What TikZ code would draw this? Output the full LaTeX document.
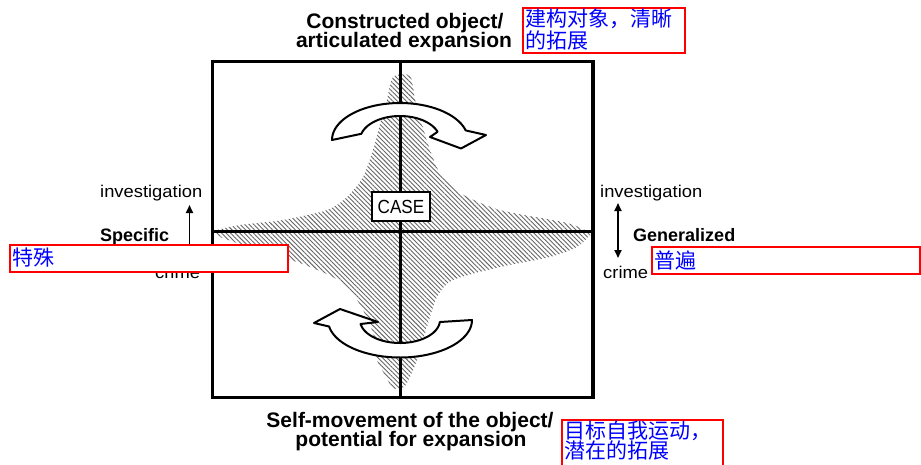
\documentclass[tikz,border=0pt]{standalone}
\usepackage{fontspec}
\setmainfont{Liberation Sans}
\newfontfamily\labfont[FakeStretch=1.08]{Liberation Sans}
\newfontfamily\casefont[FakeStretch=0.9]{Liberation Sans}
\newfontfamily\cjk{Noto Sans CJK SC}
\usetikzlibrary{arrows.meta,patterns.meta}
\tikzset{
  lbl/.style={font=\labfont\fontsize{17}{17}\selectfont, inner sep=0pt, anchor=base west},
  blbl/.style={font=\fontsize{18}{18}\selectfont\bfseries, inner sep=0pt, anchor=base west},
  ttl/.style={font=\fontsize{21}{21}\selectfont\bfseries, inner sep=0pt, anchor=base},
  cn/.style={font=\cjk\fontsize{21}{21}\selectfont, text=blue, inner sep=0pt, anchor=base west},
  redbox/.style={draw=red, fill=white, line width=2.2pt},
  arrowshape/.style={draw=black, fill=white, line width=2pt, line join=round},
  hatch/.style={pattern={Lines[angle=-45,distance=3.2pt,line width=0.9pt]}, pattern color=black!60},
  vtip/.style={line width=1.7pt, -{Triangle[length=8pt,width=7pt]}},
  dtip/.style={line width=1.7pt, {Triangle[length=8pt,width=7pt]}-{Triangle[length=8pt,width=7pt]}}
}
\begin{document}
\begin{tikzpicture}[x=1pt,y=-1pt]
\useasboundingbox (0,0) rectangle (921,464);
\fill[white] (0,0) rectangle (921,464);
% hatched star
\path[hatch] plot[smooth cycle, tension=0.45] coordinates {
 (393,77) (387,100) (382,117) (373,150) (363,177) (347,197) (327,210) (283,220) (240,225) (217,230)
 (214,233) (220,237) (267,253) (300,263) (333,277) (350,290) (363,310) (373,333) (377,360) (385,375) (393,388)
 (405,386) (417,360) (427,327) (437,297) (453,280) (500,267) (550,257) (577,247) (588,237)
 (590,233) (567,223) (500,210) (460,193) (440,173) (430,150) (420,117) (415,100) (410,76)};
% frame and axes
\coordinate (fnw) at (212.5,61.5);
\coordinate (fse) at (593,397.5);
\coordinate (vt) at (400.5,61.5);
\coordinate (vb) at (400.5,397.5);
\coordinate (hl) at (212.5,231.5);
\coordinate (hr) at (593,231.5);
\draw[line width=2.4pt] (vt) -- (vb);
\draw[line width=2.4pt] (hl) -- (hr);
\draw[line width=3.8pt] (fnw) rectangle (fse);
% curved arrows
\draw[arrowshape] plot[domain=180:15,samples=60] ({400+68*cos(\x)},{140-37*sin(\x)})
  -- (486,135) -- (461,148.5) -- (430,137)
  -- plot[domain=20:165,samples=60] ({400+40*cos(\x)},{140-24*sin(\x)}) -- cycle;
\draw[arrowshape] plot[domain=0:170,samples=60] ({400+72*cos(\x)},{320+37.5*sin(\x)})
  -- (314,323) -- (340,309) -- (378,322)
  -- plot[domain=170:5,samples=60] ({400+40*cos(\x)},{320+23*sin(\x)}) -- cycle;
% CASE
\node[draw, fill=white, line width=2pt, minimum width=58pt, minimum height=29pt, inner sep=0pt,
  font=\casefont\fontsize{19}{19}\selectfont] (case) at (401,206.5) {CASE};
% titles
\node[ttl] (t1) at (405,28) {Constructed object/};
\node[ttl] (t2) at (404,47) {articulated expansion};
\node[ttl] (b1) at (410,427.5) {Self-movement of the object/};
\node[ttl] (b2) at (411,446.5) {potential for expansion};
% left labels
\node[lbl] (linv) at (100,197.5) {investigation};
\node[blbl] (lspec) at (100,241) {Specific};
\node[lbl] (lcrime) at (155,278) {crime};
\coordinate (la1) at (189.5,262);
\coordinate (la2) at (189.5,205);
\draw[vtip] (la1) -- (la2);
% right labels
\node[lbl] (rinv) at (600,197.5) {investigation};
\node[blbl] (rgen) at (633,241.5) {Generalized};
\node[lbl] (rcrime) at (603,278) {crime};
\coordinate (ra1) at (618,203);
\coordinate (ra2) at (618,258);
\draw[dtip] (ra1) -- (ra2);
% red translation boxes
\draw[redbox] (523,8) rectangle (685,53);
\node[cn] (c1) at (525,26.5) {建构对象，清晰};
\node[cn] (c2) at (525,48.5) {的拓展};
\draw[redbox] (10,245) rectangle (288,272);
\node[cn] (c3) at (12,265.5) {特殊};
\draw[redbox] (652,247) rectangle (920,274);
\node[cn] (c4) at (654,268.5) {普遍};
\fill[white] (562,420) rectangle (723,466);
\draw[red, line width=2.2pt] (562,466) -- (562,420) -- (723,420) -- (723,466);
\node[cn] (c5) at (564,438.5) {目标自我运动，};
\node[cn] (c6) at (564,458.5) {潜在的拓展};
\end{tikzpicture}
\end{document}
